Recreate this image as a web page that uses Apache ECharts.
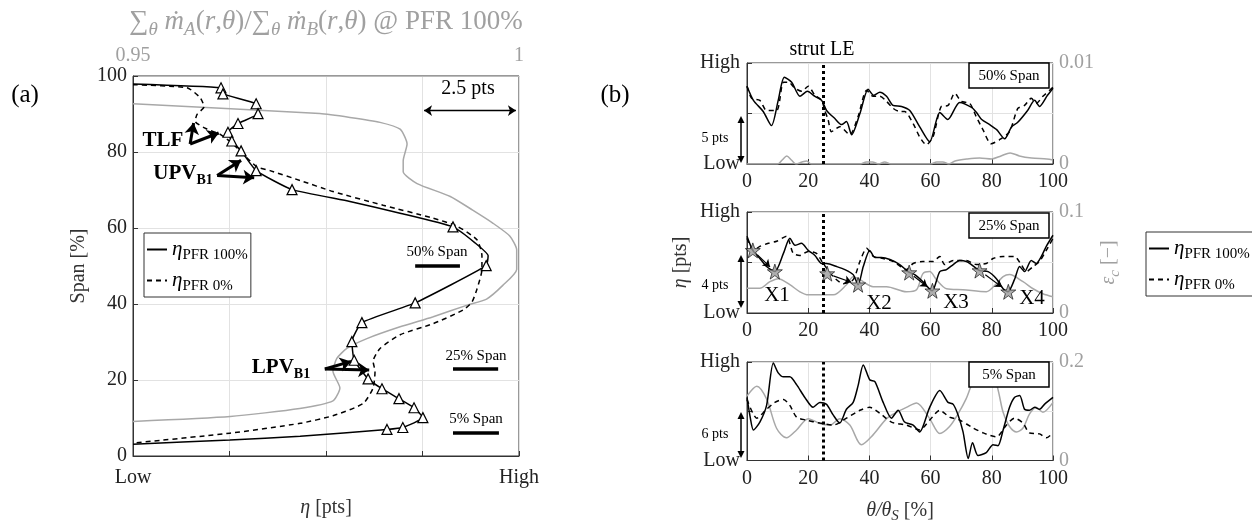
<!DOCTYPE html>
<html>
<head>
<meta charset="utf-8">
<script src="https://cdn.jsdelivr.net/npm/echarts@6/dist/echarts.min.js"></script>
<style>
  html, body { margin: 0; padding: 0; background: #fff; }
  #chart { width: 1252px; height: 525px; }
</style>
</head>
<body>
<div id="chart"></div>
<script>
// ---------- panel (a): eta [pts] vs span [%] ----------
// eta is in pts above the "Low" end, grid step = 2.5 pts
const aSolid = [
  [0, 97.9], [2.28, 96.9], [2.33, 95.3], [3.19, 92.7], [3.24, 90.1], [2.72, 87.5], [2.46, 85.2],
  [2.56, 82.9], [2.80, 80.3], [3.19, 75.1], [4.12, 70.1], [5.62, 67.0], [6.92, 63.9], [8.29, 60.3],
  [8.86, 56.1], [9.20, 52.7], [9.15, 50.1], [7.31, 40.3], [5.93, 35.1], [5.67, 30.1], [5.73, 25.2],
  [6.09, 20.3], [6.45, 17.7], [6.89, 15.1], [7.28, 12.7], [7.51, 10.1], [6.99, 7.5], [6.58, 7.0],
  [4.33, 5.2], [2.51, 4.2], [0, 3.1]
]
// points of aSolid that carry a triangle marker
const aSolidMarked = [1, 2, 3, 4, 5, 6, 7, 8, 9, 10, 13, 16, 17, 18, 19, 20, 21, 22, 23, 24, 25, 26, 27]
const aDash = [
  [0, 97.7], [1.40, 96.9], [1.74, 94.3], [1.84, 91.9], [1.66, 89.9], [1.61, 88.1], [1.92, 86.0],
  [2.25, 84.7], [2.59, 82.1], [2.85, 79.5], [3.21, 76.1], [3.55, 75.1], [4.33, 72.5], [5.18, 69.6],
  [6.48, 66.0], [7.77, 62.6], [8.39, 60.5], [8.91, 56.9], [9.04, 52.7], [9.04, 49.1], [8.91, 43.9],
  [8.78, 40.5], [8.55, 38.4], [7.77, 34.8], [6.92, 31.9], [6.40, 28.3], [6.22, 24.9], [6.27, 22.3],
  [6.22, 17.9], [5.96, 13.8], [5.18, 10.6], [4.33, 8.6], [2.51, 6.0], [0, 3.4]
]
// mass flow ratio (top axis) vs span
const aRatio = [
  [0.9500, 92.7], [0.9742, 90.1], [0.9781, 89.1], [0.9820, 87.8], [0.9846, 86.0], [0.9855, 82.1],
  [0.9850, 77.7], [0.9850, 74.8], [0.9868, 71.7], [0.9911, 68.3], [0.9940, 64.7], [0.9966, 61.3],
  [0.9988, 57.9], [0.9997, 54.3], [0.9997, 49.1], [0.9979, 44.9], [0.9958, 41.3], [0.9933, 39.7],
  [0.9888, 36.6], [0.9846, 34.0], [0.9803, 30.9], [0.9777, 28.3], [0.9764, 25.7], [0.9759, 22.3],
  [0.9768, 17.9], [0.9759, 14.5], [0.9716, 12.5], [0.9626, 10.4], [0.9500, 9.1]
]

// ---------- panel (b): eta (0 = Low, 1 = High) vs theta/theta_S [%] ----------
const b50Solid = [
  [0, 0.77], [2.1, 0.63], [5.3, 0.52], [8.0, 0.38], [10.2, 0.63], [12.2, 0.86], [14.6, 0.81], [17.3, 0.67],
  [19.7, 0.72], [22.2, 0.67], [24.4, 0.63], [26.0, 0.53], [28.7, 0.45], [30.9, 0.39], [32.5, 0.42],
  [34.2, 0.29], [36.9, 0.50], [39.6, 0.74], [41.4, 0.68], [43.4, 0.71], [45.6, 0.67], [47.7, 0.58],
  [50.5, 0.57], [53.2, 0.53], [56.4, 0.37], [59.7, 0.22], [63.0, 0.51], [65.6, 0.44], [69.5, 0.61],
  [73.4, 0.56], [75.0, 0.51], [76.7, 0.44], [79.3, 0.39], [81.6, 0.34], [84.2, 0.25], [86.5, 0.37],
  [88.4, 0.41], [91.7, 0.53], [94.0, 0.63], [95.6, 0.57], [98.2, 0.68], [100, 0.75]
]
const b50Dash = [
  [0, 0.77], [1.5, 0.65], [4.2, 0.63], [6.4, 0.53], [9.7, 0.53], [11.9, 0.81], [13.5, 0.81], [15.7, 0.75],
  [17.9, 0.72], [20.0, 0.77], [22.2, 0.68], [24.4, 0.63], [25.4, 0.53], [26.5, 0.44], [27.6, 0.32],
  [30.3, 0.37], [33.6, 0.29], [36.3, 0.47], [39.1, 0.73], [41.2, 0.67], [43.4, 0.67], [45.6, 0.62],
  [47.8, 0.55], [49.9, 0.52], [51.5, 0.52], [54.3, 0.40], [56.4, 0.27], [58.6, 0.19], [60.8, 0.27],
  [63.5, 0.57], [65.7, 0.58], [67.9, 0.70], [70.0, 0.62], [72.8, 0.60], [74.9, 0.47], [77.1, 0.34],
  [79.8, 0.20], [82.5, 0.24], [85.8, 0.32], [88.5, 0.55], [90.7, 0.58], [92.9, 0.65], [94.5, 0.60],
  [96.7, 0.67], [98.9, 0.73], [100, 0.76]
]
const b50Eps = [
  [0, 0], [10, 0], [11.5, 0.0004], [13, 0.0008], [14.5, 0.0004], [16, 0], [18, 0.0002], [19.5, 0.0003],
  [21, 0], [37, 0], [39, 0.0002], [41, 0.0002], [43, 0], [45, 0.0002], [47, 0], [60, 0], [62, 0.0002],
  [64, 0.0002], [66, 0], [68, 0.0003], [72, 0.0005], [76, 0.0006], [80, 0.0005], [83, 0.0008],
  [86, 0.0011], [89, 0.0008], [93, 0.0006], [98, 0.0005], [100, 0.0004]
]
const b25Solid = [
  [0, 0.76], [1.9, 0.62], [4.2, 0.54], [6.4, 0.46], [9.1, 0.41], [11.9, 0.59], [14.0, 0.74], [15.7, 0.67],
  [17.8, 0.69], [20.0, 0.62], [22.2, 0.57], [24.4, 0.49], [26.0, 0.49], [29.3, 0.46], [32.0, 0.43],
  [34.7, 0.38], [36.3, 0.28], [38.0, 0.46], [40.1, 0.62], [41.8, 0.55], [43.9, 0.55], [46.7, 0.53],
  [49.9, 0.48], [52.6, 0.41], [54.8, 0.38], [57.5, 0.31], [60.5, 0.22], [63.0, 0.41], [65.2, 0.43],
  [67.4, 0.48], [69.5, 0.52], [71.7, 0.51], [73.3, 0.48], [76.0, 0.42], [78.8, 0.41], [81.5, 0.34],
  [83.7, 0.24], [85.3, 0.21], [87.4, 0.33], [89.1, 0.46], [90.7, 0.41], [92.9, 0.52], [94.5, 0.49],
  [96.2, 0.56], [97.8, 0.66], [100, 0.77]
]
const b25Dash = [
  [0, 0.74], [2.1, 0.62], [4.2, 0.66], [7.0, 0.69], [9.7, 0.71], [12.9, 0.76], [15.1, 0.59], [17.3, 0.57],
  [20.0, 0.61], [22.7, 0.59], [24.9, 0.49], [28.2, 0.36], [31.4, 0.29], [34.7, 0.33], [36.9, 0.51],
  [39.1, 0.64], [41.3, 0.56], [44.5, 0.54], [47.8, 0.51], [52.1, 0.43], [54.3, 0.49], [57.5, 0.51],
  [60.8, 0.51], [63.0, 0.56], [64.6, 0.48], [67.4, 0.52], [71.7, 0.52], [74.9, 0.48], [78.2, 0.49],
  [80.4, 0.54], [83.7, 0.56], [87.4, 0.56], [89.6, 0.48], [91.3, 0.41], [93.5, 0.46], [95.6, 0.51],
  [97.8, 0.62], [100, 0.74]
]
const b25Eps = [
  [0, 0.0245], [4.2, 0.0245], [7.5, 0.031], [10.2, 0.034], [14.0, 0.028], [17.3, 0.021], [20.0, 0.018],
  [28.2, 0.018], [32.5, 0.028], [34.7, 0.036], [36.9, 0.033], [41.2, 0.026], [45.6, 0.026], [52.1, 0.021],
  [55.4, 0.023], [57.5, 0.039], [59.7, 0.041], [61.9, 0.033], [65.2, 0.024], [70.6, 0.023], [78.2, 0.021],
  [81.5, 0.029], [83.7, 0.036], [85.8, 0.038], [90.2, 0.031], [93.5, 0.024], [96.7, 0.019], [100, 0.016]
]
// minima pairs (PFR 0% -> PFR 100%) marked with stars
const b25Stars = [[1.9, 0.62], [9.1, 0.41], [26.2, 0.39], [36.3, 0.28], [53.0, 0.40], [60.6, 0.22], [76.0, 0.42], [85.4, 0.21]]
const starNames = ['X1', 'X2', 'X3', 'X4']
const b5Solid = [
  [0, 0.64], [1.1, 0.43], [2.1, 0.31], [4.2, 0.39], [6.4, 0.56], [8.6, 0.99], [10.2, 0.89], [11.9, 0.85],
  [14.0, 0.85], [16.2, 0.77], [18.9, 0.64], [21.6, 0.54], [23.8, 0.59], [26.0, 0.57], [28.2, 0.46],
  [30.3, 0.38], [32.5, 0.52], [34.7, 0.59], [36.3, 0.76], [38.0, 0.97], [40.1, 0.82], [41.8, 0.80],
  [44.5, 0.59], [47.2, 0.43], [49.4, 0.51], [51.5, 0.39], [54.3, 0.36], [56.4, 0.29], [59.7, 0.54],
  [63.0, 0.71], [65.7, 0.59], [67.4, 0.57], [69.0, 0.46], [70.6, 0.29], [72.3, 0.02], [73.7, 0.18],
  [75.5, 0.05], [78.2, 0.08], [80.4, 0.16], [82.0, 0.15], [83.7, 0.31], [85.8, 0.54], [87.4, 0.64],
  [89.1, 0.66], [90.7, 0.52], [92.3, 0.51], [94.0, 0.54], [95.6, 0.52], [97.2, 0.57], [100, 0.64]
]
const b5Dash = [
  [0, 0.62], [3.2, 0.43], [6.4, 0.52], [9.1, 0.59], [11.9, 0.62], [14.0, 0.56], [16.2, 0.44], [19.4, 0.41],
  [23.8, 0.38], [28.2, 0.36], [32.5, 0.43], [36.9, 0.51], [40.1, 0.54], [43.4, 0.48], [47.2, 0.39],
  [52.1, 0.36], [56.4, 0.31], [59.7, 0.41], [63.0, 0.51], [66.2, 0.44], [69.5, 0.41], [73.9, 0.33],
  [77.2, 0.28], [81.5, 0.24], [84.8, 0.36], [87.4, 0.43], [90.2, 0.38], [92.3, 0.28], [95.6, 0.27],
  [97.8, 0.23], [100, 0.28]
]
const b5Eps = [
  [0, 0.131], [3.2, 0.151], [6.4, 0.125], [9.7, 0.065], [12.9, 0.046], [16.2, 0.062], [20.0, 0.085],
  [23.8, 0.075], [27.2, 0.072], [30.3, 0.085], [33.6, 0.072], [37.4, 0.032], [41.2, 0.052], [45.6, 0.085],
  [48.9, 0.098], [52.1, 0.108], [55.4, 0.117], [59.7, 0.085], [63.0, 0.055], [66.2, 0.069], [69.0, 0.095],
  [71.6, 0.125], [73.2, 0.151], [76, 0.19], [78.5, 0.2], [80, 0.19], [81.5, 0.158], [82.5, 0.131],
  [83.7, 0.098], [85.8, 0.069], [88.1, 0.058], [90.2, 0.066], [92.3, 0.094], [94.5, 0.108], [96.7, 0.098],
  [100, 0.118]
]
const spanTitles = ['50% Span', '25% Span', '5% Span']
const epsMax = [0.01, 0.1, 0.2]
const ptsLabels = ['5 pts', '4 pts', '6 pts']
const strutLE = 25

const FONT = 'Liberation Serif'
const GRAY = '#a8a8a8'
const AXIS = '#333'
const SPLIT = '#e2e2e2'

const rich = {
  n: { fontFamily: FONT, fontSize: 20, lineHeight: 24 },
  i: { fontFamily: FONT, fontSize: 20, lineHeight: 24, fontStyle: 'italic' },
  s: { fontFamily: FONT, fontSize: 15, lineHeight: 12, padding: [12, 0, 0, 0] },
  si: { fontFamily: FONT, fontSize: 15, lineHeight: 12, padding: [12, 0, 0, 0], fontStyle: 'italic' },
  b: { fontFamily: FONT, fontSize: 21, lineHeight: 24, fontWeight: 'bold' },
  bs: { fontFamily: FONT, fontSize: 14, lineHeight: 12, padding: [12, 0, 0, 0], fontWeight: 'bold' }
}
// bigger gray tokens for the top axis title
const titleRich = {
  n: { fontFamily: FONT, fontSize: 27, lineHeight: 30, color: '#a0a0a0' },
  i: { fontFamily: FONT, fontSize: 27, lineHeight: 30, fontStyle: 'italic', color: '#a0a0a0' },
  si: { fontFamily: FONT, fontSize: 19, lineHeight: 14, padding: [15, 0, 0, 0], fontStyle: 'italic', color: '#a0a0a0' }
}
function grayRich() {
  const r = {}
  Object.keys(rich).forEach(k => { r[k] = Object.assign({}, rich[k], { color: '#a0a0a0' }) })
  return r
}

const chart = echarts.init(document.getElementById('chart'))

const grids = [
  { left: 133, top: 71, width: 386, height: 385 },
  { left: 747, top: 63, width: 306, height: 101 },
  { left: 747, top: 212, width: 306, height: 101 },
  { left: 747, top: 362, width: 306, height: 101 }
].map(g => Object.assign(g, { show: true, borderColor: AXIS, borderWidth: 1, backgroundColor: 'transparent' }))

const tick = { inside: true, length: 5, lineStyle: { color: AXIS } }
const lbl = { fontFamily: FONT, fontSize: 20, color: '#222' }

const xAxes = [
  {
    gridIndex: 0, type: 'value', min: 0, max: 10, interval: 2.5, position: 'bottom',
    axisLine: { lineStyle: { color: AXIS } }, axisTick: tick,
    axisLabel: Object.assign({}, lbl, { margin: 12, formatter: v => v === 0 ? 'Low' : (v === 10 ? 'High' : '') }),
    splitLine: { show: true, lineStyle: { color: SPLIT } },
    name: '{i|η}{n| [pts]}', nameLocation: 'middle', nameGap: 40, nameTextStyle: { rich: rich }
  },
  {
    gridIndex: 0, type: 'value', min: 0.95, max: 1, interval: 0.05, position: 'top',
    axisLine: { lineStyle: { color: '#bbb' } }, axisTick: { show: false },
    axisLabel: Object.assign({}, lbl, { color: '#a0a0a0', margin: 10, formatter: v => v >= 0.999 ? '1' : '0.95' }),
    splitLine: { show: false },
    name: '{n|∑}{si|θ}{i| ṁ}{si|A}{n|(}{i|r}{n|,}{i|θ}{n|)/∑}{si|θ}{i| ṁ}{si|B}{n|(}{i|r}{n|,}{i|θ}{n|) @ PFR 100%}',
    nameLocation: 'middle', nameGap: 39, nameTextStyle: { rich: titleRich }
  }
]
const yAxes = [
  {
    gridIndex: 0, type: 'value', min: 0, max: 100, interval: 20,
    axisLine: { lineStyle: { color: AXIS } }, axisTick: tick,
    axisLabel: Object.assign({}, lbl, { margin: 6 }),
    splitLine: { show: true, lineStyle: { color: SPLIT } },
    name: '{n|Span [%]}', nameLocation: 'middle', nameGap: 42, nameTextStyle: { rich: rich }
  }
]
for (let k = 0; k < 3; k++) {
  xAxes.push({
    gridIndex: k + 1, type: 'value', min: 0, max: 100, interval: 20,
    axisLine: { lineStyle: { color: AXIS } }, axisTick: tick,
    axisLabel: Object.assign({}, lbl, { margin: 8 }),
    splitLine: { show: true, lineStyle: { color: SPLIT } },
    name: k === 2 ? '{i|θ/θ}{si|S}{n| [%]}' : '', nameLocation: 'middle', nameGap: 38, nameTextStyle: { rich: rich }
  })
  yAxes.push({
    gridIndex: k + 1, type: 'value', min: 0, max: 1, interval: 0.5, position: 'left',
    axisLine: { lineStyle: { color: AXIS } }, axisTick: tick,
    axisLabel: Object.assign({}, lbl, { margin: 7, formatter: v => v === 1 ? 'High' : (v === 0 ? 'Low' : '') }),
    splitLine: { show: true, lineStyle: { color: SPLIT } },
    name: k === 1 ? '{i|η}{n| [pts]}' : '', nameLocation: 'middle', nameGap: 54, nameTextStyle: { rich: rich }
  })
  yAxes.push({
    gridIndex: k + 1, type: 'value', min: 0, max: epsMax[k], interval: epsMax[k], position: 'right',
    axisLine: { show: false }, axisTick: { show: false },
    axisLabel: Object.assign({}, lbl, { color: '#a0a0a0', margin: 6 }),
    splitLine: { show: false },
    name: k === 1 ? '{i|ε}{si|c}{n| [−]}' : '', nameLocation: 'middle', nameGap: 44,
    nameTextStyle: { rich: grayRich() }
  })
}

const solidStyle = { color: '#000', width: 1.5 }
const dashStyle = { color: '#000', width: 1.5, type: [5, 4] }
const grayStyle = { color: GRAY, width: 1.5 }

function lineSeries(name, data, xi, yi, ls, extra) {
  return Object.assign({
    name: name, type: 'line', xAxisIndex: xi, yAxisIndex: yi, data: data,
    symbol: 'none', lineStyle: ls, itemStyle: { color: ls.color }, smooth: 0.2,
    silent: true, animation: false, z: 3
  }, extra || {})
}

function arrowLine(p, q, width, size, both) {
  return [
    { coord: p, symbol: both ? 'arrow' : 'none', symbolSize: size },
    { coord: q, symbol: 'arrow', symbolSize: size, lineStyle: { color: '#000', width: width, type: 'solid' } }
  ]
}
function bar(x1, x2, y) {
  return [
    { coord: [x1, y], symbol: 'none' },
    { coord: [x2, y], symbol: 'none', lineStyle: { color: '#000', width: 3.5, type: 'solid' } }
  ]
}

const series = []
// panel (a)
series.push(lineSeries('eta100', aSolid.map((p, i) => aSolidMarked.indexOf(i) >= 0
  ? { value: p, symbol: 'triangle', symbolSize: 10, itemStyle: { color: '#fff', borderColor: '#000', borderWidth: 1.2 } }
  : { value: p }), 0, 0, solidStyle, {
  smooth: 0.15,
  markLine: {
    silent: true, animation: false, label: { show: false },
    lineStyle: { color: '#000', width: 3, type: 'solid' },
    data: [
      arrowLine([1.48, 82.1], [1.57, 87.6], 3, 11),
      arrowLine([1.48, 82.1], [2.22, 85.0], 3, 11),
      arrowLine([2.18, 73.8], [2.80, 77.8], 3, 11),
      arrowLine([2.18, 73.8], [3.14, 73.2], 3, 11),
      arrowLine([4.97, 22.9], [5.65, 24.9], 3, 11),
      arrowLine([4.97, 22.9], [6.12, 22.6], 3, 11),
      arrowLine([7.54, 90.9], [9.92, 90.9], 1.3, 8, true),
      bar(7.31, 8.47, 50.1),
      bar(8.29, 9.46, 22.9),
      bar(8.29, 9.48, 6.2)
    ]
  }
}))
series.push(lineSeries('eta0', aDash, 0, 0, dashStyle))
series.push(lineSeries('ratio', aRatio, 1, 0, grayStyle, { z: 2 }))

// panel (b)
const bData = [[b50Solid, b50Dash, b50Eps], [b25Solid, b25Dash, b25Eps], [b5Solid, b5Dash, b5Eps]]
bData.forEach((d, k) => {
  const xi = k + 2, yl = 1 + 2 * k, yr = 2 + 2 * k
  series.push(lineSeries('eps' + k, d[2], xi, yr, grayStyle, { z: 2, smooth: 0.3 }))
  series.push(lineSeries('eta100', d[0], xi, yl, solidStyle, { smooth: 0.25 }))
  series.push(lineSeries('eta0', d[1], xi, yl, dashStyle, {
    smooth: 0.25,
    markLine: {
      silent: true, animation: false, symbol: 'none', label: { show: false },
      lineStyle: { color: '#000', width: 3, type: [3, 3] },
      data: [{ xAxis: strutLE }]
    }
  }))
})
// stars + arrows between each pair
const starArrows = []
for (let j = 0; j < b25Stars.length; j += 2) {
  const a = b25Stars[j], b = b25Stars[j + 1]
  const at = t => [a[0] + t * (b[0] - a[0]), a[1] + t * (b[1] - a[1])]
  starArrows.push([
    { coord: at(0.2), symbol: 'none' },
    { coord: at(0.78), symbol: 'arrow', symbolSize: 7, lineStyle: { color: '#000', width: 1.2, type: 'solid' } }
  ])
}
series.push({
  name: 'stars', type: 'scatter', xAxisIndex: 3, yAxisIndex: 3, data: b25Stars,
  symbol: 'path://M12,0 L14.9,8.3 L23.4,8.3 L16.5,13.5 L19.1,21.8 L12,16.7 L4.9,21.8 L7.5,13.5 L0.6,8.3 L9.1,8.3 Z',
  symbolSize: 15, itemStyle: { color: '#9a9a9a', borderColor: '#000', borderWidth: 0.8 },
  silent: true, animation: false, z: 5,
  markLine: { silent: true, animation: false, label: { show: false }, data: starArrows }
})

// ---------- annotations ----------
function txt(x, y, text, size, extra) {
  return {
    type: 'text', x: x, y: y, z: 100, silent: true,
    style: Object.assign({ text: text, fontFamily: FONT, fontSize: size, fill: '#000', align: 'center', verticalAlign: 'middle', rich: rich }, extra || {})
  }
}
function vArrow(x, y1, y2) {
  const h = 7, w = 3.5
  return [
    { type: 'line', z: 100, silent: true, shape: { x1: x, y1: y1 + h, x2: x, y2: y2 - h }, style: { stroke: '#000', lineWidth: 1.5 } },
    { type: 'polygon', z: 100, silent: true, shape: { points: [[x, y1], [x - w, y1 + h], [x + w, y1 + h]] }, style: { fill: '#000' } },
    { type: 'polygon', z: 100, silent: true, shape: { points: [[x, y2], [x - w, y2 - h], [x + w, y2 - h]] }, style: { fill: '#000' } }
  ]
}
function spanBox(top, label) {
  return [
    { type: 'rect', z: 100, silent: true, shape: { x: 969, y: top, width: 80, height: 25 }, style: { fill: '#fff', stroke: '#000', lineWidth: 1.5 } },
    txt(1009, top + 13, label, 15)
  ]
}

const graphic = [
  txt(25, 95, '(a)', 25),
  txt(615, 95, '(b)', 25),
  txt(163, 141, '{b|TLF}', 20),
  txt(183, 174, '{b|UPV}{bs|B1}', 20),
  txt(281, 368, '{b|LPV}{bs|B1}', 20),
  txt(468, 89, '2.5 pts', 20),
  txt(437, 252, '50% Span', 15),
  txt(476, 356, '25% Span', 15),
  txt(476, 419, '5% Span', 15),
  txt(822, 50, 'strut LE', 20)
]
const boxTops = [63, 213, 362]
const arrowY = [[116, 163], [255, 308], [412, 458]]
const ptsY = [138, 285, 434]
for (let k = 0; k < 3; k++) {
  spanBox(boxTops[k], spanTitles[k]).forEach(e => graphic.push(e))
  vArrow(741, arrowY[k][0], arrowY[k][1]).forEach(e => graphic.push(e))
  graphic.push(txt(715, ptsY[k], ptsLabels[k], 14))
}
const xLabelPos = [[777, 295], [879, 303], [956, 302], [1032, 298]]
starNames.forEach((s, j) => graphic.push(txt(xLabelPos[j][0], xLabelPos[j][1], s, 21)))

const legendRich = {
  i: { fontFamily: FONT, fontSize: 21, lineHeight: 24, fontStyle: 'italic', color: '#000' },
  s: { fontFamily: FONT, fontSize: 15, lineHeight: 12, padding: [12, 0, 0, 0], color: '#000' }
}
function legendFmt(name) {
  return name === 'eta100' ? '{i|η}{s|PFR 100%}' : '{i|η}{s|PFR 0%}'
}
const legendBase = {
  orient: 'vertical', data: ['eta100', 'eta0'], formatter: legendFmt, textStyle: { rich: legendRich },
  borderColor: AXIS, borderWidth: 1, borderRadius: 0, padding: [3, 3, 3, 2], itemGap: 4,
  itemWidth: 20, itemHeight: 14, selectedMode: false, backgroundColor: '#fff', z: 50,
  itemStyle: { color: 'rgba(0,0,0,0)', borderColor: 'rgba(0,0,0,0)', borderWidth: 0, opacity: 0 }
}

chart.setOption({
  animation: false,
  grid: grids,
  xAxis: xAxes,
  yAxis: yAxes,
  legend: [
    Object.assign({}, legendBase, { left: 144, top: 233 }),
    Object.assign({}, legendBase, { left: 1146, top: 232 })
  ],
  series: series,
  graphic: graphic
})
</script>
</body>
</html>
